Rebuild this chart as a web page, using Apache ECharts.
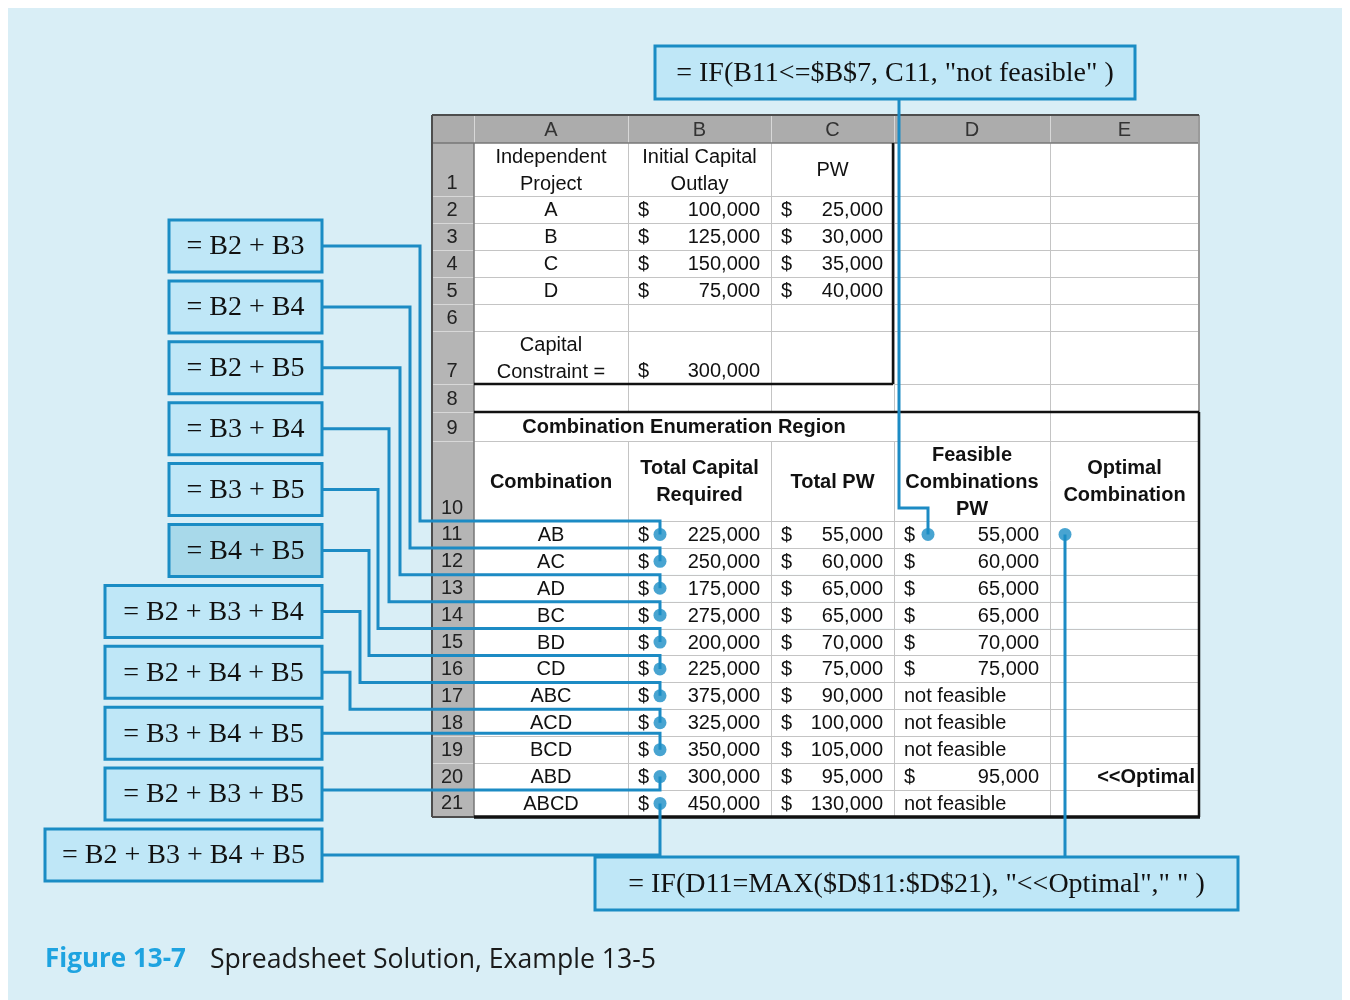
<!DOCTYPE html>
<html><head><meta charset="utf-8">
<script src="https://cdn.jsdelivr.net/npm/echarts@6/dist/echarts.min.js"></script>
<style>html,body{margin:0;padding:0;background:#fff}#c{width:1350px;height:1000px}</style>
</head><body><div id="c"></div>
<script>
// ================= DATA =================
const columnLetters = ['A', 'B', 'C', 'D', 'E'];
const projectHeaders = ['Independent\nProject', 'Initial Capital\nOutlay', 'PW'];
const projects = ['A', 'B', 'C', 'D'];
const initialCapital = [100000, 125000, 150000, 75000];
const projectPW = [25000, 30000, 35000, 40000];
const constraintLabel = 'Capital\nConstraint =';
const capitalConstraint = 300000;
const regionTitle = 'Combination Enumeration Region';
const enumHeaders = ['Combination', 'Total Capital\nRequired', 'Total PW', 'Feasible\nCombinations\nPW', 'Optimal\nCombination'];
const combinations = ['AB', 'AC', 'AD', 'BC', 'BD', 'CD', 'ABC', 'ACD', 'BCD', 'ABD', 'ABCD'];
const totalCapital = [225000, 250000, 175000, 275000, 200000, 225000, 375000, 325000, 350000, 300000, 450000];
const totalPW = [55000, 60000, 65000, 65000, 70000, 75000, 90000, 100000, 105000, 95000, 130000];
const feasiblePW = [55000, 60000, 65000, 65000, 70000, 75000, null, null, null, 95000, null];
const notFeasibleText = 'not feasible';
const optimalLabel = ['', '', '', '', '', '', '', '', '', '<<Optimal', ''];
const sumFormulas = ['= B2 + B3', '= B2 + B4', '= B2 + B5', '= B3 + B4', '= B3 + B5', '= B4 + B5',
  '= B2 + B3 + B4', '= B2 + B4 + B5', '= B3 + B4 + B5', '= B2 + B3 + B5', '= B2 + B3 + B4 + B5'];
const feasibleFormula = '= IF(B11<=$B$7, C11, "not feasible" )';
const optimalFormula = '= IF(D11=MAX($D$11:$D$21), "<<Optimal"," " )';
const captionNumber = 'Figure 13-7';
const captionText = 'Spreadsheet Solution, Example 13-5';

// ================= LAYOUT =================
const SANS = '"Liberation Sans", Arial, sans-serif';
const SERIF = '"Liberation Serif", "Times New Roman", serif';
const CAPTION_FONT = '"Open Sans", "Noto Sans", sans-serif';
const LINE_BLUE = '#1c8bc4';
const TABLE_TOP = 115;
const colEdges = [432, 474, 628, 771, 894, 1050, 1199];
const rowHeights = [28, 53, 27, 27, 27, 27, 27, 53, 28, 29, 80].concat(new Array(11).fill(26.9));
const rowEdges = [TABLE_TOP];
rowHeights.forEach(h => rowEdges.push(rowEdges[rowEdges.length - 1] + h));
const TABLE_RIGHT = colEdges[6], TABLE_BOTTOM = rowEdges[22];
const rowCenter = r => (rowEdges[r] + rowEdges[r + 1]) / 2;

const BOX_RIGHT = 322, BOX_H = 52, BOX_TOP0 = 220, BOX_STEP = 60.9;
const boxLeft = [169, 169, 169, 169, 169, 169, 105, 105, 105, 105, 45];
const laneX = [420, 410, 400, 389, 378, 369, 360, 350, null, null, null];
const DOT_X = 660;

const fmt = n => n.toLocaleString('en-US');

// ---- cell texts ----
const cells = [];
function cell(c, r, text, o) { cells.push(Object.assign({c: c, r: r, text: text}, o || {})); }
columnLetters.forEach((L, i) => cell(i + 1, 0, L, {color: '#333'}));
for (let r = 1; r <= 21; r++) cell(0, r, String(r), {valign: 'bottom', color: '#222'});
projectHeaders.forEach((h, i) => cell(i + 1, 1, h));
projects.forEach((p, i) => {
  const r = 2 + i;
  cell(1, r, p);
  cell(2, r, '$', {align: 'left'}); cell(2, r, fmt(initialCapital[i]), {align: 'right'});
  cell(3, r, '$', {align: 'left'}); cell(3, r, fmt(projectPW[i]), {align: 'right'});
});
cell(1, 7, constraintLabel);
cell(2, 7, '$', {align: 'left', valign: 'bottom'});
cell(2, 7, fmt(capitalConstraint), {align: 'right', valign: 'bottom'});
cell(1, 9, regionTitle, {c2: 3, bold: true});
enumHeaders.forEach((h, i) => cell(i + 1, 10, h, {bold: true}));
combinations.forEach((cmb, i) => {
  const r = 11 + i;
  cell(1, r, cmb);
  cell(2, r, '$', {align: 'left'}); cell(2, r, fmt(totalCapital[i]), {align: 'right'});
  cell(3, r, '$', {align: 'left'}); cell(3, r, fmt(totalPW[i]), {align: 'right'});
  if (feasiblePW[i] == null) cell(4, r, notFeasibleText, {align: 'left'});
  else { cell(4, r, '$', {align: 'left'}); cell(4, r, fmt(feasiblePW[i]), {align: 'right'}); }
  if (optimalLabel[i]) cell(5, r, optimalLabel[i], {align: 'right', bold: true, pad: 4});
});
const cellData = cells.map((cl, i) => {
  const left = colEdges[cl.c], right = colEdges[(cl.c2 || cl.c) + 1];
  const top = rowEdges[cl.r], bottom = rowEdges[cl.r + 1];
  let x;
  if (cl.align === 'left') x = left + 10;
  else if (cl.align === 'right') x = right - (cl.pad || 11);
  else x = cl.c === 0 ? left + 20 : (left + right) / 2;
  const y = cl.valign === 'bottom' ? bottom - 13 : (top + bottom) / 2 + 1;
  return [x, y, i];
});

// ---- cell fills ----
const fillData = [];
for (let r = 0; r <= 21; r++) for (let c = 0; c <= 5; c++)
  fillData.push([colEdges[c], rowEdges[r], colEdges[c + 1], rowEdges[r + 1], r === 0 ? 1 : (c === 0 ? 2 : 0)]);
const fillColors = ['#ffffff', '#acacac', '#b5b5b5'];

// ---- rules ----
const ruleStyles = [
  {stroke: '#c4c4c4', w: 1},   // 0 grid
  {stroke: '#d8d8d8', w: 1},   // 1 light (on gray)
  {stroke: '#4d4d4d', w: 2},   // 2 outer
  {stroke: '#111111', w: 2.5}, // 3 thick
  {stroke: '#111111', w: 3.5}, // 4 extra thick
  {stroke: '#777777', w: 1.5}, // 5 header bottom
  {stroke: '#9a9a9a', w: 2}    // 6 right gray
];
const rules = [];
for (let r = 2; r <= 21; r++) {
  rules.push([colEdges[0], rowEdges[r], colEdges[1], rowEdges[r], 1]);
  rules.push([colEdges[1], rowEdges[r], TABLE_RIGHT, rowEdges[r], 0]);
}
for (let c = 1; c <= 5; c++) {
  rules.push([colEdges[c], TABLE_TOP, colEdges[c], rowEdges[1], 1]);
  if (c >= 2 && c <= 4) {
    rules.push([colEdges[c], rowEdges[1], colEdges[c], rowEdges[9], 0]);
    rules.push([colEdges[c], rowEdges[10], colEdges[c], TABLE_BOTTOM, 0]);
  } else {
    rules.push([colEdges[c], rowEdges[1], colEdges[c], TABLE_BOTTOM, c === 1 ? 5 : 0]);
  }
}
rules.push([colEdges[0], rowEdges[1], TABLE_RIGHT, rowEdges[1], 5]);
rules.push([TABLE_RIGHT, TABLE_TOP, TABLE_RIGHT, rowEdges[9], 6]);
rules.push([colEdges[0], TABLE_TOP, TABLE_RIGHT, TABLE_TOP, 2]);
rules.push([colEdges[0], TABLE_TOP, colEdges[0], TABLE_BOTTOM, 2]);
rules.push([colEdges[0], TABLE_BOTTOM, colEdges[1], TABLE_BOTTOM, 2]);
rules.push([colEdges[4] - 1, rowEdges[1], colEdges[4] - 1, rowEdges[8], 3]);
rules.push([colEdges[1], rowEdges[8], colEdges[4] - 1, rowEdges[8], 3]);
rules.push([colEdges[1], rowEdges[9], TABLE_RIGHT, rowEdges[9], 3]);
rules.push([TABLE_RIGHT, rowEdges[9], TABLE_RIGHT, TABLE_BOTTOM, 3]);
rules.push([colEdges[1], TABLE_BOTTOM, TABLE_RIGHT + 1, TABLE_BOTTOM, 4]);

// ---- callout boxes ----
const callouts = sumFormulas.map((t, i) => ({
  text: t, x1: boxLeft[i], y1: BOX_TOP0 + i * BOX_STEP, x2: BOX_RIGHT, y2: BOX_TOP0 + i * BOX_STEP + BOX_H,
  fill: i === 5 ? '#a8d9ea' : '#bfe7f7', size: 28
}));
callouts.push({text: feasibleFormula, x1: 655, y1: 46, x2: 1135, y2: 99, fill: '#bfe7f7', size: 28});
callouts.push({text: optimalFormula, x1: 595, y1: 857, x2: 1238, y2: 910, fill: '#bfe7f7', size: 28});
const calloutData = callouts.map((b, i) => [b.x1, b.y1, b.x2, b.y2, i]);

// ---- connectors ----
const connectors = sumFormulas.map((t, i) => {
  const cy = BOX_TOP0 + i * BOX_STEP + BOX_H / 2;
  const r = 11 + i;
  if (laneX[i] != null) {
    const ly = rowEdges[r];
    return [[BOX_RIGHT, cy], [laneX[i], cy], [laneX[i], ly], [DOT_X, ly], [DOT_X, rowCenter(r)]];
  }
  const ly = i === 9 ? rowEdges[r + 1] : cy;
  return [[BOX_RIGHT, ly], [DOT_X, ly], [DOT_X, rowCenter(r)]];
});
const dCellDotX = 928, eCellDotX = 1065;
connectors.push([[899, 99], [899, rowEdges[11] - 13], [dCellDotX, rowEdges[11] - 13], [dCellDotX, rowCenter(11)]]);
connectors.push([[eCellDotX, rowCenter(11)], [eCellDotX, 857]]);
const connectorData = connectors.map((pts, i) => [pts[0][0], pts[0][1], i]);

const dotData = combinations.map((c, i) => [DOT_X, rowCenter(11 + i)]);
dotData.push([dCellDotX, rowCenter(11)], [eCellDotX, rowCenter(11)]);

// ================= CHART =================
const chart = echarts.init(document.getElementById('c'), null, {renderer: 'canvas'});
const option = {
  animation: false,
  backgroundColor: '#ffffff',
  grid: {left: 8, right: 8, top: 8, bottom: 0, show: true, backgroundColor: '#d9eef6', borderWidth: 0},
  xAxis: {type: 'value', min: 8, max: 1342, show: false},
  yAxis: {type: 'value', min: 8, max: 1000, inverse: true, show: false},
  title: [
    {text: captionNumber, left: 40, top: 942, textStyle: {color: '#1ea3e0', fontSize: 26, fontWeight: 'bold', fontFamily: CAPTION_FONT}},
    {text: captionText, left: 205, top: 942, textStyle: {color: '#1a1a1a', fontSize: 26.6, fontWeight: 'normal', fontFamily: CAPTION_FONT}}
  ],
  series: [
    {
      type: 'custom', name: 'fills', silent: true, z: 1, data: fillData,
      renderItem: (params, api) => {
        const p0 = api.coord([api.value(0), api.value(1)]);
        const p1 = api.coord([api.value(2), api.value(3)]);
        return {type: 'rect', shape: {x: p0[0], y: p0[1], width: p1[0] - p0[0], height: p1[1] - p0[1]},
          style: {fill: fillColors[api.value(4)], stroke: null}};
      }
    },
    {
      type: 'custom', name: 'rules', silent: true, z: 2, data: rules,
      renderItem: (params, api) => {
        const s = ruleStyles[api.value(4)];
        const p0 = api.coord([api.value(0), api.value(1)]);
        const p1 = api.coord([api.value(2), api.value(3)]);
        const off = s.w === 1 ? 0.5 : 0;
        return {type: 'line', shape: {x1: Math.round(p0[0]) + off, y1: Math.round(p0[1]) + off, x2: Math.round(p1[0]) + off, y2: Math.round(p1[1]) + off},
          style: {stroke: s.stroke, lineWidth: s.w}};
      }
    },
    {
      type: 'custom', name: 'cellText', silent: true, z: 3, data: cellData,
      renderItem: (params, api) => {
        const cl = cells[api.value(2)];
        const p = api.coord([api.value(0), api.value(1)]);
        return {type: 'text', x: p[0], y: p[1], style: {
          text: cl.text, fill: cl.color || '#111', fontSize: 20, fontFamily: SANS,
          fontWeight: cl.bold ? 'bold' : 'normal',
          align: cl.align === 'left' ? 'left' : (cl.align === 'right' ? 'right' : 'center'),
          verticalAlign: 'middle', lineHeight: 27}};
      }
    },
    {
      type: 'custom', name: 'connectors', silent: true, z: 4, data: connectorData,
      renderItem: (params, api) => {
        const pts = connectors[api.value(2)].map(p => api.coord(p));
        return {type: 'polyline', shape: {points: pts}, style: {stroke: LINE_BLUE, lineWidth: 3, fill: null}};
      }
    },
    {
      type: 'scatter', name: 'dots', silent: true, z: 5, symbol: 'circle', symbolSize: 13,
      itemStyle: {color: '#1a8dc6'}, data: dotData
    },
    {
      type: 'custom', name: 'callouts', silent: true, z: 6, data: calloutData,
      renderItem: (params, api) => {
        const b = callouts[api.value(4)];
        const p0 = api.coord([api.value(0), api.value(1)]);
        const p1 = api.coord([api.value(2), api.value(3)]);
        return {type: 'group', children: [
          {type: 'rect', shape: {x: p0[0], y: p0[1], width: p1[0] - p0[0], height: p1[1] - p0[1]},
            style: {fill: b.fill, stroke: '#1a8cc4', lineWidth: 3}},
          {type: 'text', x: (p0[0] + p1[0]) / 2, y: (p0[1] + p1[1]) / 2 + 1,
            style: {text: b.text, fill: '#111', fontSize: b.size, fontFamily: SERIF, align: 'center', verticalAlign: 'middle'}}
        ]};
      }
    }
  ]
};
chart.setOption(option);
</script>
</body></html>
